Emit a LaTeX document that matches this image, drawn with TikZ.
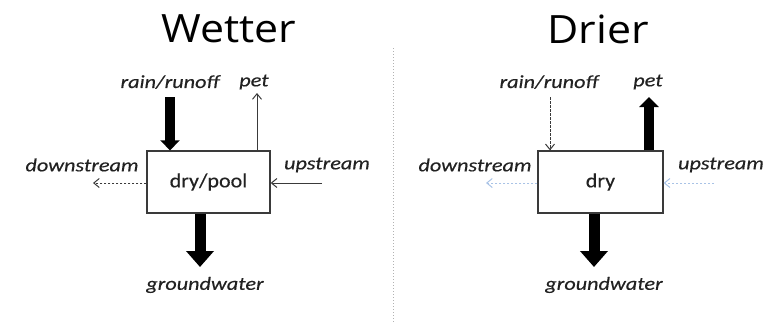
\documentclass[tikz,border=0pt]{standalone}
\usepackage{fontspec}
\setmainfont{Carlito}
\newfontfamily\lblfont{Carlito}[FakeBold=0.3, ItalicFeatures={FakeBold=0.3}]
\newfontfamily\titlefont{Open Sans}
\usetikzlibrary{arrows.meta}
\definecolor{boxgray}{HTML}{3A3A3A}
\definecolor{lbl}{HTML}{222222}
\definecolor{paleblue}{HTML}{A9C3E6}
\tikzset{
  flowbox/.style={draw=boxgray, line width=1.3pt, fill=white, minimum width=123pt, minimum height=62pt, inner sep=0pt, font=\lblfont\fontsize{20}{20}\selectfont, text=lbl},
  flowlbl/.style={font=\lblfont\fontsize{18.5}{18.5}\selectfont\itshape, text=lbl, inner sep=0pt, xscale=1.2},
  ttl/.style={font=\titlefont\fontsize{39}{39}\selectfont, inner sep=0pt, xscale=1.1},
  bigarrow/.style={line width=10pt, -{Triangle[width=19pt,length=10pt]}},
  hugearrow/.style={line width=11pt, -{Triangle[width=27pt,length=16pt]}},
  thinarrow/.style={line width=1pt, draw=boxgray, -{Straight Barb[length=5.5pt,width=9pt]}},
  dasharrow/.style={thinarrow, dashed, dash pattern=on 2.5pt off 1.5pt},
  bluearrow/.style={line width=1pt, draw=paleblue, dashed, dash pattern=on 2.5pt off 1.5pt, -{Straight Barb[length=5.5pt,width=9pt]}},
}
\begin{document}
\begin{tikzpicture}[x=1pt,y=-1pt]
\useasboundingbox (0,0) rectangle (782,322);
% divider
\draw[gray!60, line width=1pt, dotted] (393,48) -- (393,322);

% ---------- Wetter ----------
\node[ttl] (t1) at (229,29) {Wetter};
\node[flowbox] (b1) at (208.5,182) {\scalebox{1.1}[1]{dry/pool}};
\node[flowlbl] (rain1) at (170,82) {rain/runoff};
\node[flowlbl] (pet1) at (254,82) {pet};
\node[flowlbl] (down1) at (82,165) {downstream};
\node[flowlbl] (up1) at (327,165) {upstream};
\node[flowlbl] (gw1) at (205,285) {groundwater};
\coordinate (r1s) at (170,97);
\coordinate (p1e) at (257,93);
\coordinate (d1e) at (93,183);
\coordinate (u1s) at (322,183);
\coordinate (g1e) at (200,267);
\draw[bigarrow] (r1s) -- (r1s |- b1.north);
\draw[thinarrow] (p1e |- b1.north) -- (p1e);
\draw[dasharrow] (b1.west |- d1e) -- (d1e);
\draw[thinarrow] (u1s) -- (b1.east |- u1s);
\draw[hugearrow] (g1e |- b1.south) -- (g1e);

% ---------- Drier ----------
\node[ttl] (t2) at (598,29) {Drier};
\node[flowbox, minimum width=125pt] (b2) at (600.5,182) {\scalebox{1.1}[1]{dry}};
\node[flowlbl] (rain2) at (549,82) {rain/runoff};
\node[flowlbl] (pet2) at (648,82) {pet};
\node[flowlbl] (down2) at (475,165) {downstream};
\node[flowlbl] (up2) at (721,165) {upstream};
\node[flowlbl] (gw2) at (604,285) {groundwater};
\coordinate (r2s) at (550,97);
\coordinate (p2e) at (649,97);
\coordinate (d2e) at (486,183);
\coordinate (u2s) at (714,183);
\coordinate (g2e) at (594,267);
\draw[dasharrow] (r2s) -- (r2s |- b2.north);
\draw[bigarrow] (p2e |- b2.north) -- (p2e);
\draw[bluearrow] (b2.west |- d2e) -- (d2e);
\draw[bluearrow] (u2s) -- (b2.east |- u2s);
\draw[hugearrow] (g2e |- b2.south) -- (g2e);
\end{tikzpicture}
\end{document}
